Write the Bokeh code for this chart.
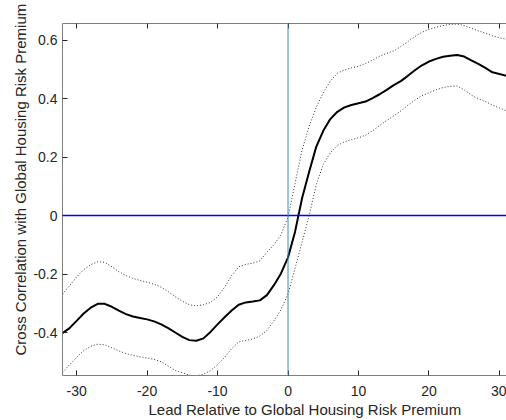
from bokeh.plotting import figure
from bokeh.models import LinearAxis, FixedTicker, CustomJSTickFormatter, Range1d, Span, Title
from bokeh.embed import file_html
from bokeh.resources import INLINE

lags = list(range(-32, 33))
xcorr = [-0.402, -0.385, -0.360, -0.335, -0.315, -0.302, -0.302, -0.312, -0.325, -0.337,
         -0.345, -0.350, -0.355, -0.362, -0.372, -0.385, -0.400, -0.415, -0.426, -0.428,
         -0.420, -0.398, -0.372, -0.348, -0.325, -0.305, -0.297, -0.294, -0.290, -0.272,
         -0.238, -0.198, -0.143, -0.055, 0.060, 0.150, 0.235, 0.290, 0.330, 0.355,
         0.370, 0.378, 0.384, 0.390, 0.402, 0.415, 0.430, 0.446, 0.460, 0.478,
         0.497, 0.514, 0.527, 0.536, 0.543, 0.547, 0.549, 0.544, 0.531, 0.519,
         0.505, 0.490, 0.484, 0.478, 0.474]
upper = [-0.269, -0.240, -0.210, -0.185, -0.168, -0.158, -0.160, -0.175, -0.192, -0.205,
         -0.215, -0.222, -0.228, -0.235, -0.245, -0.260, -0.278, -0.293, -0.305, -0.309,
         -0.305, -0.297, -0.278, -0.245, -0.205, -0.175, -0.167, -0.163, -0.155, -0.125,
         -0.100, -0.065, -0.005, 0.110, 0.225, 0.305, 0.370, 0.420, 0.460, 0.487,
         0.498, 0.505, 0.511, 0.520, 0.532, 0.545, 0.555, 0.563, 0.578, 0.595,
         0.612, 0.627, 0.637, 0.644, 0.650, 0.654, 0.655, 0.650, 0.641, 0.632,
         0.624, 0.615, 0.608, 0.603, 0.598]
lower = [-0.537, -0.510, -0.485, -0.462, -0.447, -0.440, -0.442, -0.452, -0.463, -0.472,
         -0.478, -0.483, -0.487, -0.492, -0.500, -0.515, -0.530, -0.537, -0.546, -0.548,
         -0.543, -0.530, -0.510, -0.485, -0.455, -0.432, -0.427, -0.422, -0.412, -0.393,
         -0.360, -0.322, -0.268, -0.180, -0.090, 0.000, 0.105, 0.175, 0.215, 0.240,
         0.252, 0.260, 0.266, 0.275, 0.290, 0.308, 0.325, 0.341, 0.358, 0.377,
         0.395, 0.410, 0.420, 0.430, 0.438, 0.442, 0.443, 0.430, 0.412, 0.400,
         0.390, 0.378, 0.368, 0.358, 0.350]

x_ticks = [-30, -20, -10, 0, 10, 20, 30]
y_ticks = [-0.4, -0.2, 0, 0.2, 0.4, 0.6]
x_label = "Lead Relative to Global Housing Risk Premium"
y_label = "Cross Correlation with Global Housing Risk Premium"

FONT = "Liberation Sans"
AX = "#262626"

p = figure(width=506, height=420, output_backend="svg", toolbar_location=None,
           x_range=Range1d(-32, 31.0), y_range=Range1d(-0.547, 0.657),
           x_axis_location=None, y_axis_location=None,
           min_border_left=62, min_border_right=0, min_border_top=23, min_border_bottom=45)
p.outline_line_color = None
p.xgrid.visible = False
p.ygrid.visible = False

xfmt = CustomJSTickFormatter(code="return tick.toFixed(0);")
yfmt = CustomJSTickFormatter(code="return Math.abs(tick) < 1e-9 ? '0' : tick.toFixed(1);")

def style(ax):
    ax.axis_line_color = "#7f7f7f"
    ax.axis_line_width = 1
    ax.major_tick_line_color = AX
    ax.major_tick_in = 5
    ax.major_tick_out = 0
    ax.minor_tick_line_color = None
    ax.major_label_text_font = FONT
    ax.major_label_text_font_size = "14px"
    ax.major_label_text_color = AX

bottom = LinearAxis(ticker=FixedTicker(ticks=x_ticks), formatter=xfmt)
style(bottom)
bottom.major_label_standoff = 10
p.add_layout(bottom, "below")

left = LinearAxis(ticker=FixedTicker(ticks=y_ticks), formatter=yfmt)
style(left)
left.major_label_standoff = 5
p.add_layout(left, "left")

top = LinearAxis(ticker=FixedTicker(ticks=x_ticks), formatter=xfmt)
style(top)
top.major_label_text_color = None
p.add_layout(top, "above")

p.line(lags, upper, line_color="#333333", line_width=1, line_dash="1 2")
p.line(lags, lower, line_color="#333333", line_width=1, line_dash="1 2")
p.line(lags, xcorr, line_color="black", line_width=2)

p.add_layout(Span(location=0, dimension="width", line_color="#0000ff", line_width=1.5))
p.add_layout(Span(location=0, dimension="height", line_color="#3b8cc2", line_width=1))

xt = Title(text=x_label, align="left", offset=86, standoff=0,
           text_font=FONT, text_font_size="15px", text_font_style="normal", text_color=AX)
p.add_layout(xt, "below")
yt = Title(text=y_label, align="left", offset=20, standoff=3,
           text_font=FONT, text_font_size="15px", text_font_style="normal", text_color=AX)
p.add_layout(yt, "left")

open("out.html", "w").write(file_html(p, INLINE))
